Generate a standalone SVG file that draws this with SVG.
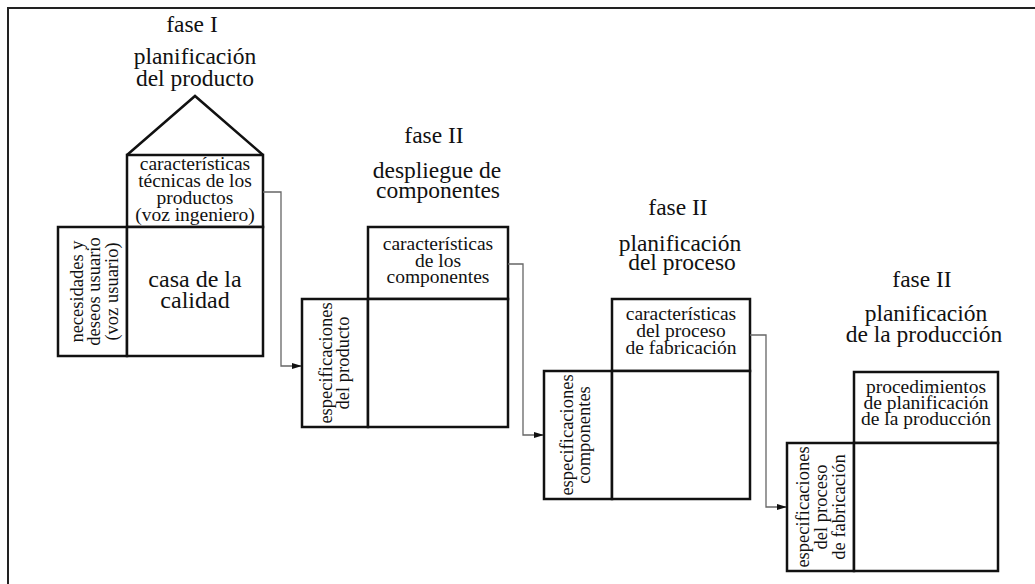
<svg xmlns="http://www.w3.org/2000/svg" width="1035" height="584" viewBox="0 0 1035 584">
  <defs>
    <marker id="arrow" markerWidth="10" markerHeight="6" refX="9" refY="3" orient="auto" markerUnits="userSpaceOnUse">
      <path d="M0,0 L10,3 L0,6 Z" fill="#111"/>
    </marker>
    <style>
      .frame { stroke: #222; stroke-width: 2; fill: none; }
      .box { fill: #fff; stroke: #111; stroke-width: 2.5; }
      .roof { fill: none; stroke: #111; stroke-width: 2.5; stroke-linejoin: miter; }
      .title { font-family: "Liberation Serif", "DejaVu Serif", serif; font-size: 23.5px; fill: #111; text-anchor: middle; }
      .big { font-family: "Liberation Serif", "DejaVu Serif", serif; font-size: 24px; fill: #111; text-anchor: middle; }
      .label { font-family: "Liberation Serif", "DejaVu Serif", serif; font-size: 19.5px; fill: #111; text-anchor: middle; }
      .vlabel { font-family: "Liberation Serif", "DejaVu Serif", serif; font-size: 18.5px; fill: #111; text-anchor: middle; }
      .conn { fill: none; stroke: #666; stroke-width: 1.3; }
    </style>
  </defs>
  <rect width="1035" height="584" fill="#fff"/>
  <g id="frame">
    <path class="frame" d="M8,584 L8,8 L1035,8"/>
  </g>

  <!-- Phase I -->
  <g id="phase1-title">
    <text class="title" x="192" y="32">fase I</text>
    <text class="title" x="195" y="64">planificación</text>
    <text class="title" x="195" y="86">del producto</text>
  </g>
  <g id="phase1-roof">
    <polyline class="roof" points="127,155 195,96 263,155"/>
  </g>
  <g id="phase1-top">
    <rect class="box" x="127" y="155" width="136" height="72"/>
    <text class="label" x="195" y="170">características</text>
    <text class="label" x="195" y="187">técnicas de los</text>
    <text class="label" x="195" y="204">productos</text>
    <text class="label" x="195" y="221">(voz ingeniero)</text>
  </g>
  <g id="phase1-left">
    <rect class="box" x="58" y="227" width="69" height="129"/>
    <text class="vlabel" transform="translate(83,291.5) rotate(-90)">necesidades y</text>
    <text class="vlabel" transform="translate(100,291.5) rotate(-90)">deseos usuario</text>
    <text class="vlabel" transform="translate(118,291.5) rotate(-90)">(voz usuario)</text>
  </g>
  <g id="phase1-main">
    <rect class="box" x="127" y="227" width="136" height="129"/>
    <text class="big" x="195" y="287">casa de la</text>
    <text class="big" x="195" y="308">calidad</text>
  </g>

  <!-- Phase II: despliegue -->
  <g id="phase2-title">
    <text class="title" x="434" y="143">fase II</text>
    <text class="title" x="437" y="178">despliegue de</text>
    <text class="title" x="438" y="198">componentes</text>
  </g>
  <g id="phase2-top">
    <rect class="box" x="368" y="227" width="140" height="72"/>
    <text class="label" x="438" y="250">características</text>
    <text class="label" x="438" y="267">de los</text>
    <text class="label" x="438" y="283">componentes</text>
  </g>
  <g id="phase2-left">
    <rect class="box" x="302" y="299" width="66" height="128"/>
    <text class="vlabel" transform="translate(332,363) rotate(-90)">especificaciones</text>
    <text class="vlabel" transform="translate(349,363) rotate(-90)">del producto</text>
  </g>
  <g id="phase2-main">
    <rect class="box" x="368" y="299" width="140" height="128"/>
  </g>

  <!-- Phase II: planificación del proceso -->
  <g id="phase3-title">
    <text class="title" x="678" y="215">fase II</text>
    <text class="title" x="680" y="251">planificación</text>
    <text class="title" x="682" y="270">del proceso</text>
  </g>
  <g id="phase3-top">
    <rect class="box" x="612" y="299" width="138" height="72"/>
    <text class="label" x="681" y="320">características</text>
    <text class="label" x="681" y="337">del proceso</text>
    <text class="label" x="681" y="354">de fabricación</text>
  </g>
  <g id="phase3-left">
    <rect class="box" x="544" y="371" width="68" height="128"/>
    <text class="vlabel" transform="translate(573,435) rotate(-90)">especificaciones</text>
    <text class="vlabel" transform="translate(590,435) rotate(-90)">componentes</text>
  </g>
  <g id="phase3-main">
    <rect class="box" x="612" y="371" width="138" height="128"/>
  </g>

  <!-- Phase II: planificación de la producción -->
  <g id="phase4-title">
    <text class="title" x="922" y="287">fase II</text>
    <text class="title" x="926" y="321">planificación</text>
    <text class="title" x="924" y="342">de la producción</text>
  </g>
  <g id="phase4-top">
    <rect class="box" x="854" y="372" width="144" height="71"/>
    <text class="label" x="926" y="393">procedimientos</text>
    <text class="label" x="926" y="409">de planificación</text>
    <text class="label" x="926" y="425">de la producción</text>
  </g>
  <g id="phase4-left">
    <rect class="box" x="787" y="443" width="67" height="128"/>
    <text class="vlabel" transform="translate(809,507) rotate(-90)">especificaciones</text>
    <text class="vlabel" transform="translate(827,507) rotate(-90)">del proceso</text>
    <text class="vlabel" transform="translate(845,507) rotate(-90)">de fabricación</text>
  </g>
  <g id="phase4-main">
    <rect class="box" x="854" y="443" width="144" height="128"/>
  </g>

  <g id="connectors">
    <path class="conn" d="M263,192 L281,192 L281,366 L301,366" marker-end="url(#arrow)"/>
    <path class="conn" d="M508,264 L523,264 L523,435 L543,435" marker-end="url(#arrow)"/>
    <path class="conn" d="M750,335 L766,335 L766,507 L786,507" marker-end="url(#arrow)"/>
  </g>
</svg>
